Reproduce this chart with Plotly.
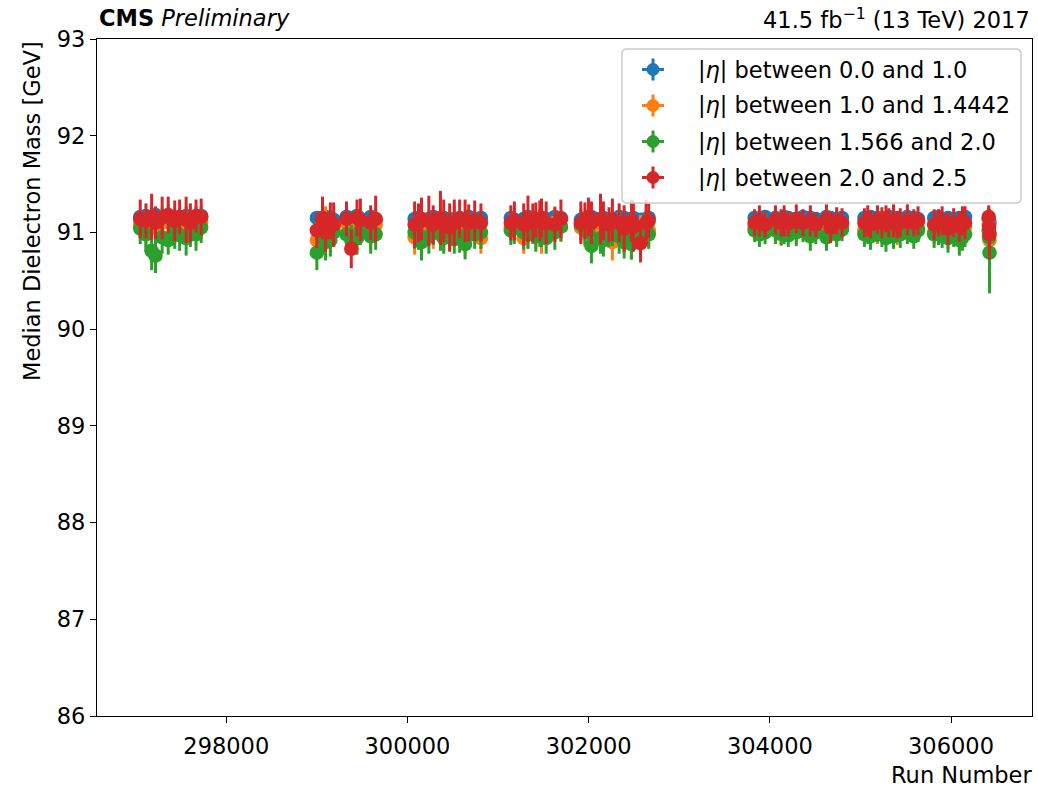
import plotly.graph_objects as go

# ---------------- data ----------------
runs = [
    297050, 297113, 297176, 297219, 297292, 297359, 297431, 297485, 297557, 297604, 297666, 297723,
    299000, 299062, 299096, 299149, 299185, 299327, 299380, 299443, 299480, 299594, 299649,
    300079, 300122, 300155, 300236, 300284, 300364, 300400, 300466, 300517, 300576, 300636, 300676, 300742, 300811,
    301141, 301180, 301283, 301330, 301384, 301417, 301461, 301480, 301531, 301627, 301694, 301914, 301959,
    301998, 302031, 302131, 302163, 302225, 302262, 302337, 302392, 302472, 302494, 302573, 302634, 302663,
    303832, 303885, 303948, 304062, 304125, 304158, 304204, 304292, 304366, 304447, 304508, 304625, 304671,
    304738, 304797,
    305044, 305081, 305112, 305188, 305237, 305282, 305314, 305365, 305406, 305440, 305518, 305589, 305636,
    305814, 305862, 305902, 305967, 306029, 306092, 306126, 306155,
    306416, 306420, 306425,
]

mass_eta_00_10 = [
    91.16, 91.17, 91.15, 91.18, 91.16, 91.17, 91.15, 91.16, 91.17, 91.15, 91.16, 91.17,
    91.15, 91.14, 91.16, 91.15, 91.13, 91.16, 91.15, 91.17, 91.14, 91.16, 91.13,
    91.14, 91.15, 91.13, 91.14, 91.16, 91.14, 91.15, 91.13, 91.14, 91.15, 91.14, 91.16, 91.14, 91.15,
    91.15, 91.13, 91.14, 91.16, 91.15, 91.14, 91.13, 91.15, 91.14, 91.16, 91.15, 91.13, 91.14,
    91.15, 91.16, 91.14, 91.15, 91.13, 91.14, 91.16, 91.15, 91.14, 91.15, 91.13, 91.14, 91.15,
    91.15, 91.14, 91.16, 91.15, 91.14, 91.16, 91.15, 91.14, 91.16, 91.15, 91.14, 91.16, 91.15,
    91.14, 91.15,
    91.15, 91.14, 91.16, 91.15, 91.14, 91.15, 91.16, 91.14, 91.15, 91.14, 91.16, 91.15, 91.14,
    91.15, 91.16, 91.14, 91.15, 91.13, 91.15, 91.14, 91.16,
    91.14, 91.12, 91.10,
]
err_eta_00_10 = [
    0.06, 0.07, 0.06, 0.08, 0.06, 0.07, 0.06, 0.06, 0.07, 0.06, 0.06, 0.07,
    0.07, 0.06, 0.08, 0.06, 0.07, 0.06, 0.07, 0.06, 0.06, 0.07, 0.06,
    0.06, 0.07, 0.06, 0.06, 0.07, 0.06, 0.06, 0.07, 0.06, 0.06, 0.07, 0.06, 0.06, 0.07,
    0.06, 0.06, 0.07, 0.06, 0.06, 0.07, 0.06, 0.06, 0.07, 0.06, 0.06, 0.07, 0.06,
    0.06, 0.07, 0.06, 0.06, 0.07, 0.06, 0.06, 0.07, 0.06, 0.06, 0.07, 0.06, 0.06,
    0.06, 0.07, 0.06, 0.06, 0.07, 0.06, 0.06, 0.07, 0.06, 0.06, 0.07, 0.06, 0.06,
    0.07, 0.06,
    0.06, 0.07, 0.06, 0.06, 0.07, 0.06, 0.06, 0.07, 0.06, 0.06, 0.07, 0.06, 0.06,
    0.07, 0.06, 0.06, 0.07, 0.06, 0.06, 0.07, 0.06,
    0.08, 0.09, 0.10,
]

mass_eta_10_14 = [
    91.08, 91.02, 91.12, 91.05, 91.10, 91.14, 91.06, 91.11, 91.09, 91.04, 91.12, 91.10,
    90.92, 91.08, 91.12, 91.00, 91.05, 91.10, 90.98, 91.06, 91.12, 91.00, 91.08,
    90.95, 91.02, 90.92, 91.05, 91.00, 91.08, 90.98, 91.03, 91.10, 91.00, 90.94, 91.05, 91.06, 90.94,
    91.05, 91.08, 90.94, 91.02, 91.06, 91.00, 91.08, 90.96, 91.04, 91.10, 91.06, 91.05, 91.02,
    91.08, 91.06, 91.00, 90.98, 91.04, 90.90, 91.06, 90.95, 90.92, 91.04, 91.00, 91.08, 91.02,
    91.06, 91.02, 91.08, 91.04, 90.98, 91.05, 91.08, 91.02, 91.06, 91.00, 91.04, 91.08, 91.05,
    91.02, 91.06,
    91.02, 91.06, 91.04, 91.00, 91.08, 91.04, 91.02, 91.06, 91.00, 91.05, 91.08, 91.02, 91.04,
    91.00, 91.06, 91.02, 90.98, 91.04, 90.96, 91.02, 91.05,
    91.08, 91.00, 90.92,
]
err_eta_10_14 = [
    0.15, 0.18, 0.14, 0.20, 0.16, 0.15, 0.17, 0.14, 0.18, 0.16, 0.15, 0.17,
    0.18, 0.16, 0.15, 0.20, 0.17, 0.14, 0.19, 0.16, 0.15, 0.18, 0.16,
    0.18, 0.16, 0.19, 0.15, 0.17, 0.16, 0.18, 0.15, 0.17, 0.16, 0.18, 0.15, 0.17, 0.16,
    0.15, 0.17, 0.16, 0.18, 0.15, 0.17, 0.16, 0.18, 0.15, 0.17, 0.16, 0.15, 0.17,
    0.16, 0.18, 0.15, 0.17, 0.16, 0.19, 0.15, 0.17, 0.20, 0.16, 0.18, 0.15, 0.17,
    0.12, 0.13, 0.12, 0.14, 0.12, 0.13, 0.12, 0.14, 0.12, 0.13, 0.12, 0.14, 0.12,
    0.13, 0.12,
    0.13, 0.12, 0.14, 0.12, 0.13, 0.12, 0.14, 0.12, 0.13, 0.12, 0.14, 0.12, 0.13,
    0.12, 0.14, 0.12, 0.15, 0.13, 0.16, 0.14, 0.13,
    0.18, 0.20, 0.22,
]

mass_eta_1566_20 = [
    91.04, 90.98, 90.81, 90.76, 90.95, 90.92, 91.02, 90.97, 90.94, 91.00, 90.98, 91.05,
    90.79, 90.95, 90.90, 90.92, 91.00, 90.98, 90.92, 90.94, 91.02, 90.96, 90.98,
    91.00, 90.98, 90.90, 90.96, 91.02, 90.98, 90.94, 91.00, 90.93, 90.96, 90.88, 91.00, 90.98, 91.00,
    91.02, 91.04, 91.00, 90.98, 91.05, 90.96, 91.00, 91.02, 90.94, 91.00, 91.06, 91.08, 91.04,
    91.00, 90.86, 90.94, 90.92, 91.00, 91.02, 90.96, 90.90, 90.88, 91.00, 90.92, 91.06, 90.98,
    91.02, 90.98, 91.00, 91.02, 90.99, 91.01, 90.97, 91.00, 91.02, 90.96, 91.00, 90.95, 91.02,
    90.98, 91.03,
    90.98, 91.00, 90.96, 91.02, 90.98, 90.94, 91.00, 90.96, 91.02, 90.98, 91.00, 90.96, 91.02,
    90.98, 91.00, 90.96, 90.94, 90.98, 90.92, 90.95, 90.98,
    91.02, 90.95, 90.79,
]
err_eta_1566_20 = [
    0.16, 0.18, 0.20, 0.18, 0.17, 0.15, 0.19, 0.16, 0.18, 0.15, 0.17, 0.16,
    0.18, 0.16, 0.19, 0.17, 0.15, 0.18, 0.16, 0.17, 0.15, 0.18, 0.16,
    0.17, 0.16, 0.19, 0.18, 0.15, 0.17, 0.16, 0.18, 0.15, 0.17, 0.16, 0.18, 0.15, 0.17,
    0.15, 0.16, 0.18, 0.15, 0.17, 0.16, 0.15, 0.17, 0.16, 0.18, 0.15, 0.16, 0.17,
    0.15, 0.18, 0.16, 0.17, 0.15, 0.16, 0.18, 0.17, 0.16, 0.15, 0.17, 0.16, 0.15,
    0.12, 0.13, 0.12, 0.14, 0.12, 0.13, 0.12, 0.14, 0.12, 0.15, 0.12, 0.14, 0.12,
    0.13, 0.12,
    0.13, 0.12, 0.14, 0.12, 0.13, 0.14, 0.12, 0.13, 0.12, 0.14, 0.12, 0.13, 0.12,
    0.14, 0.13, 0.12, 0.15, 0.13, 0.16, 0.14, 0.13,
    0.16, 0.20, 0.42,
]

mass_eta_20_25 = [
    91.14, 91.12, 91.16, 91.10, 91.15, 91.18, 91.12, 91.16, 91.13, 91.10, 91.17, 91.16,
    91.02, 91.15, 91.00, 91.12, 91.08, 91.14, 90.83, 91.15, 91.13, 91.10, 91.14,
    91.08, 91.10, 91.14, 91.12, 91.08, 91.15, 91.12, 91.05, 91.10, 91.14, 91.12, 91.10, 91.12, 91.10,
    91.10, 91.12, 91.08, 91.14, 91.10, 91.13, 91.12, 91.15, 91.10, 91.08, 91.14, 91.10, 91.12,
    91.16, 91.10, 91.14, 91.12, 91.08, 91.13, 91.10, 91.04, 91.12, 91.06, 90.89, 91.10, 91.12,
    91.10, 91.12, 91.08, 91.13, 91.10, 91.12, 91.09, 91.14, 91.10, 91.12, 91.08, 91.14, 91.05,
    91.12, 91.10,
    91.10, 91.12, 91.08, 91.13, 91.10, 91.14, 91.10, 91.12, 91.08, 91.10, 91.13, 91.10, 91.12,
    91.08, 91.10, 91.12, 91.04, 91.10, 91.06, 91.12, 91.10,
    91.16, 91.06, 90.98,
]
err_eta_20_25 = [
    0.20, 0.18, 0.24, 0.17, 0.22, 0.19, 0.21, 0.18, 0.24, 0.20, 0.17, 0.19,
    0.18, 0.22, 0.20, 0.19, 0.23, 0.18, 0.20, 0.19, 0.22, 0.18, 0.24,
    0.24, 0.20, 0.22, 0.26, 0.20, 0.28, 0.22, 0.25, 0.24, 0.20, 0.22, 0.19, 0.21, 0.20,
    0.18, 0.20, 0.22, 0.24, 0.20, 0.18, 0.21, 0.20, 0.22, 0.18, 0.20, 0.22, 0.19,
    0.20, 0.22, 0.26, 0.20, 0.18, 0.22, 0.20, 0.24, 0.22, 0.26, 0.20, 0.24, 0.18,
    0.14, 0.16, 0.13, 0.15, 0.14, 0.16, 0.13, 0.15, 0.14, 0.16, 0.13, 0.15, 0.16,
    0.14, 0.15,
    0.15, 0.16, 0.14, 0.15, 0.16, 0.14, 0.15, 0.17, 0.14, 0.15, 0.16, 0.14, 0.15,
    0.16, 0.14, 0.15, 0.17, 0.15, 0.16, 0.15, 0.17,
    0.12, 0.14, 0.26,
]

series_labels = [
    "|<i>η</i>| between 0.0 and 1.0",
    "|<i>η</i>| between 1.0 and 1.4442",
    "|<i>η</i>| between 1.566 and 2.0",
    "|<i>η</i>| between 2.0 and 2.5",
]
series_colors = ["#1f77b4", "#ff7f0e", "#2ca02c", "#d62728"]
series_values = [mass_eta_00_10, mass_eta_10_14, mass_eta_1566_20, mass_eta_20_25]
series_errors = [err_eta_00_10, err_eta_10_14, err_eta_1566_20, err_eta_20_25]

x_ticks = [298000, 300000, 302000, 304000, 306000]
y_ticks = [86, 87, 88, 89, 90, 91, 92, 93]

FONT = "DejaVu Sans"
FS = 22.5

# plot-area geometry in pixels (for placing the hand-drawn legend)
W, H = 1038, 787
ML, MR, MT, MB = 97, 6, 39, 71
PW, PH = W - ML - MR, H - MT - MB


def px(x):
    return (x - ML) / PW


def py(y):
    return 1 - (y - MT) / PH


fig = go.Figure()
for i, (lab, col, vals, errs) in enumerate(zip(series_labels, series_colors, series_values, series_errors)):
    fig.add_trace(go.Scatter(
        x=runs, y=vals, mode="markers", name=lab, showlegend=False,
        marker=dict(color=col, size=14.5, line=dict(width=0)),
        error_y=dict(type="data", array=errs, visible=True, color=col, thickness=3, width=0),
    ))

axis_common = dict(
    showgrid=False, zeroline=False, showline=True, linecolor="black", linewidth=1.3,
    mirror=True, ticks="outside", ticklen=6, tickwidth=1.3, tickcolor="black",
    tickfont=dict(family=FONT, size=FS, color="black"),
)

# ----- legend drawn by hand (matplotlib style: cross-shaped errorbar icons) -----
shapes = []
annotations = []
bx0, bx1, by0, by1, r = 622, 1021, 49, 203, 5
path = (f"M {px(bx0 + r)},{py(by0)} L {px(bx1 - r)},{py(by0)} "
        f"Q {px(bx1)},{py(by0)} {px(bx1)},{py(by0 + r)} L {px(bx1)},{py(by1 - r)} "
        f"Q {px(bx1)},{py(by1)} {px(bx1 - r)},{py(by1)} L {px(bx0 + r)},{py(by1)} "
        f"Q {px(bx0)},{py(by1)} {px(bx0)},{py(by1 - r)} L {px(bx0)},{py(by0 + r)} "
        f"Q {px(bx0)},{py(by0)} {px(bx0 + r)},{py(by0)} Z")
shapes.append(dict(type="path", xref="paper", yref="paper", path=path,
                   fillcolor="rgba(255,255,255,0.8)", line=dict(color="#cccccc", width=1.5), layer="above"))
row_y = [69.5, 105.5, 141.5, 177.5]
icon_x = 653
for lab, col, ry in zip(series_labels, series_colors, row_y):
    shapes.append(dict(type="line", xref="paper", yref="paper", x0=px(icon_x - 11), x1=px(icon_x + 11),
                       y0=py(ry), y1=py(ry), line=dict(color=col, width=3), layer="above"))
    shapes.append(dict(type="line", xref="paper", yref="paper", x0=px(icon_x), x1=px(icon_x),
                       y0=py(ry - 11), y1=py(ry + 11), line=dict(color=col, width=3), layer="above"))
    shapes.append(dict(type="circle", xref="paper", yref="paper", x0=px(icon_x - 6.5), x1=px(icon_x + 6.5),
                       y0=py(ry + 6.5), y1=py(ry - 6.5), fillcolor=col, line=dict(width=0), layer="above"))
    annotations.append(dict(text=lab, xref="paper", yref="paper", x=px(696), y=py(ry),
                            xanchor="left", yanchor="middle", showarrow=False,
                            font=dict(family=FONT, size=FS, color="black")))

annotations += [
    dict(text="<b>CMS</b> <i>Preliminary</i>", xref="paper", yref="paper", x=0, y=py(18),
         xanchor="left", yanchor="middle", showarrow=False, font=dict(family=FONT, size=FS)),
    dict(text="41.5 fb<sup>−1</sup> (13 TeV) 2017", xref="paper", yref="paper", x=1, y=py(18),
         xanchor="right", yanchor="middle", showarrow=False, font=dict(family=FONT, size=FS)),
    dict(text="Run Number", xref="paper", yref="paper", x=px(1034), y=py(775),
         xanchor="right", yanchor="middle", showarrow=False, font=dict(family=FONT, size=FS)),
    dict(text="Median Dielectron Mass [GeV]", xref="paper", yref="paper", x=px(32), y=py(39),
         xanchor="center", yanchor="top", textangle=-90, showarrow=False,
         font=dict(family=FONT, size=FS)),
]

fig.update_layout(
    width=W, height=H,
    margin=dict(l=ML, r=MR, t=MT, b=MB),
    paper_bgcolor="white", plot_bgcolor="white",
    font=dict(family=FONT, size=FS, color="black"),
    xaxis=dict(range=[296573, 306894], tickvals=x_ticks, ticktext=[str(v) for v in x_ticks],
               ticklabelstandoff=4, **axis_common),
    yaxis=dict(range=[86, 93], tickvals=y_ticks, **axis_common),
    showlegend=False,
    shapes=shapes,
    annotations=annotations,
)

fig.write_html("out.html")
